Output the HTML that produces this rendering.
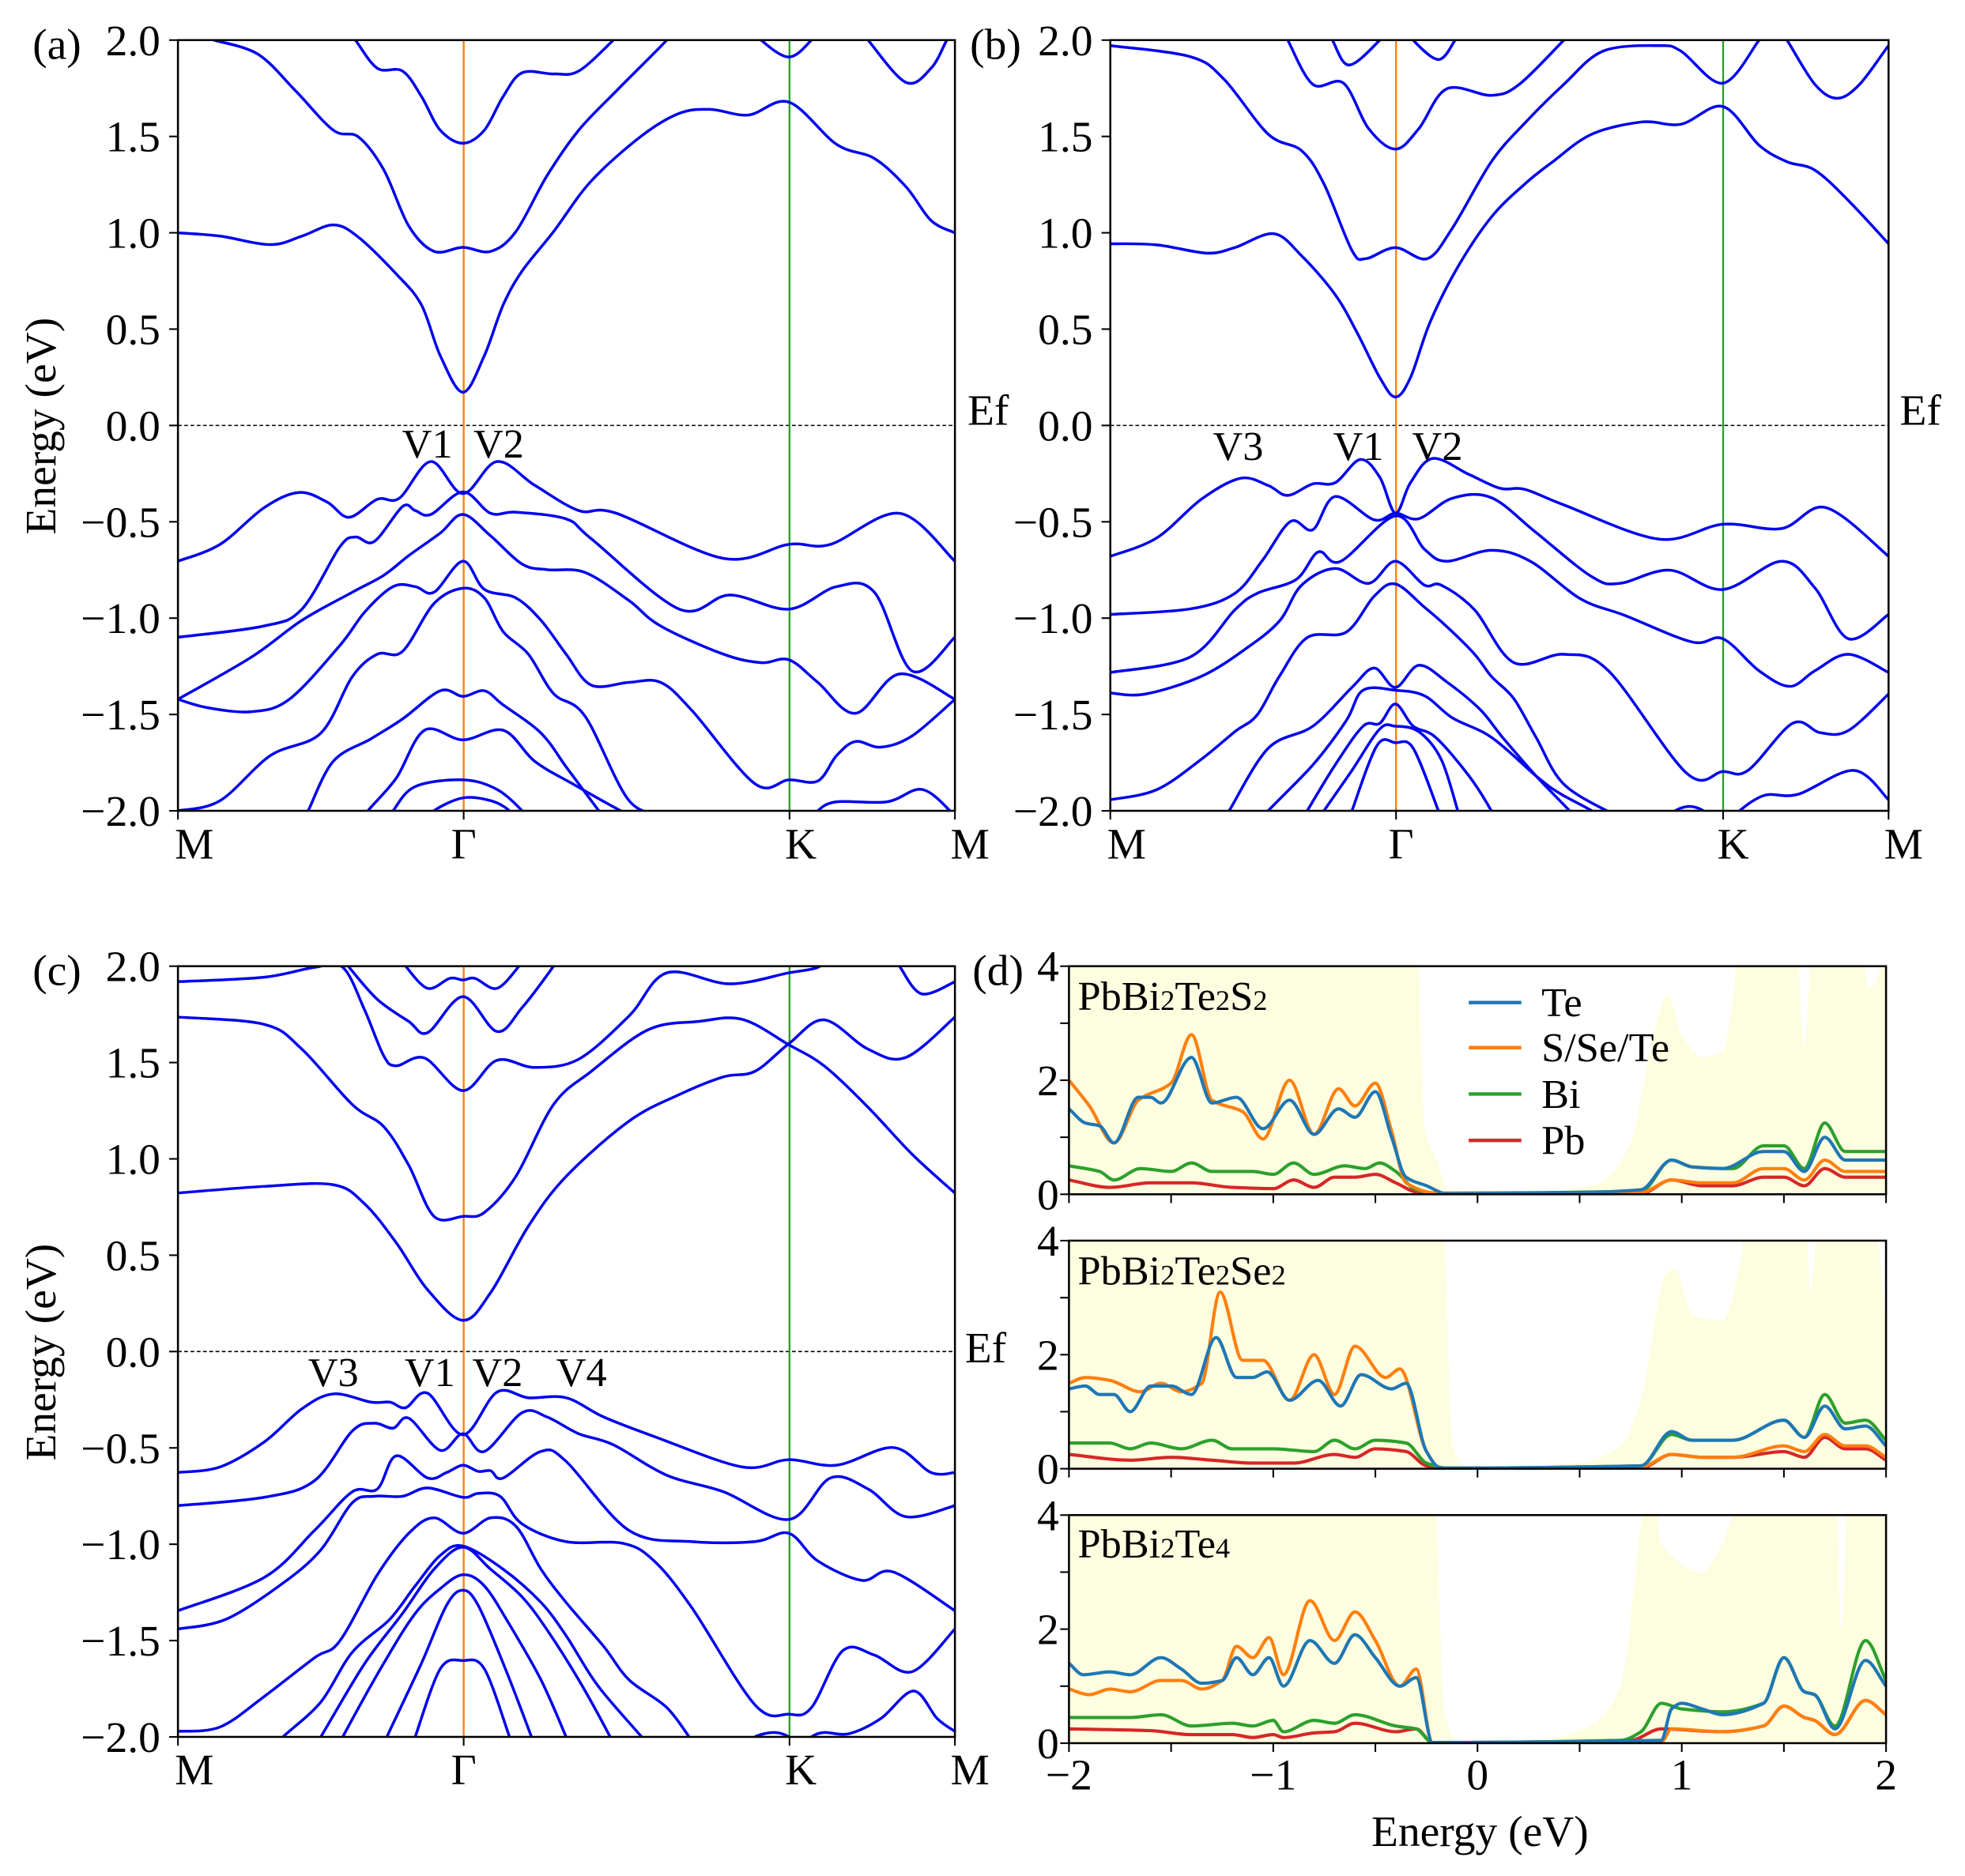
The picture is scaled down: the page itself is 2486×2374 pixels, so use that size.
<!DOCTYPE html>
<html><head><meta charset="utf-8"><style>
html,body{margin:0;padding:0;background:#fff;}
svg{display:block;font-family:"Liberation Serif",serif;}
</style></head><body>
<svg id="s" width="2486" height="2374" viewBox="0 0 1568 1497" preserveAspectRatio="none" xmlns="http://www.w3.org/2000/svg">
<defs>
<clipPath id="ca"><rect x="142" y="32" width="620" height="615"/></clipPath>
<clipPath id="cb"><rect x="886" y="32" width="621" height="615"/></clipPath>
<clipPath id="cc"><rect x="142" y="771" width="620" height="615"/></clipPath>
<clipPath id="cd1"><rect x="853" y="771" width="652" height="182"/></clipPath>
<clipPath id="cd2"><rect x="853" y="990" width="652" height="182"/></clipPath>
<clipPath id="cd3"><rect x="853" y="1209" width="652" height="182"/></clipPath>
</defs>
<g id="g"></g>
</svg>
<script>
var NS="http://www.w3.org/2000/svg",G=document.getElementById('g');
function el(t,a,p,txt){var e=document.createElementNS(NS,t);for(var k in a)e.setAttribute(k,a[k]);if(txt!==undefined)e.textContent=txt;(p||G).appendChild(e);return e;}
function cr(P){if(P.length<2)return'';var d='M'+P[0][0].toFixed(1)+','+P[0][1].toFixed(1);for(var i=0;i<P.length-1;i++){var p0=P[i-1]||P[i],p1=P[i],p2=P[i+1],p3=P[i+2]||p2;var c1x=p1[0]+(p2[0]-p0[0])/6,c1y=p1[1]+(p2[1]-p0[1])/6,c2x=p2[0]-(p3[0]-p1[0])/6,c2y=p2[1]-(p3[1]-p1[1])/6;d+='C'+c1x.toFixed(1)+','+c1y.toFixed(1)+' '+c2x.toFixed(1)+','+c2y.toFixed(1)+' '+p2[0].toFixed(1)+','+p2[1].toFixed(1);}return d;}
function mono(P){var n=P.length;if(n<2)return'';var dl=[],m=[];for(var i=0;i<n-1;i++)dl.push((P[i+1][1]-P[i][1])/(P[i+1][0]-P[i][0]));
 m[0]=dl[0];m[n-1]=dl[n-2];for(i=1;i<n-1;i++){if(dl[i-1]*dl[i]<=0)m[i]=0;else{var a=dl[i-1],b=dl[i];m[i]=2/(1/a+1/b);}}
 var d='M'+P[0][0].toFixed(1)+','+P[0][1].toFixed(1);
 for(i=0;i<n-1;i++){var h=(P[i+1][0]-P[i][0])/3;d+='C'+(P[i][0]+h).toFixed(1)+','+(P[i][1]+m[i]*h).toFixed(1)+' '+(P[i+1][0]-h).toFixed(1)+','+(P[i+1][1]-m[i+1]*h).toFixed(1)+' '+P[i+1][0].toFixed(1)+','+P[i+1][1].toFixed(1);}
 return d;}
function fl(a){var r=[];for(var i=0;i<a.length;i+=2)r.push([a[i],a[i+1]]);return r;}

function bandPanel(o){
 var X=function(z){return o.dx0+(z-o.zx0)/(o.zx1-o.zx0)*(o.dx1-o.dx0);};
 var Y=function(z){return o.dy0+(z-o.zy0)/(o.zy1-o.zy0)*(o.dy1-o.dy0);};
 var g=el('g',{'clip-path':'url(#'+o.clip+')'});
 var ey=o.dy0+(o.dy1-o.dy0)/2;
 el('line',{x1:o.dx0,x2:o.dx1,y1:ey,y2:ey,stroke:'#000','stroke-width':1,'stroke-dasharray':'3,2'},g);
 el('line',{x1:o.gx,x2:o.gx,y1:o.dy0,y2:o.dy1,stroke:'#ff7f0e','stroke-width':1.5},g);
 el('line',{x1:o.kx,x2:o.kx,y1:o.dy0,y2:o.dy1,stroke:'#2ca02c','stroke-width':1.5},g);
 o.bands.forEach(function(b){var P=fl(b).map(function(p){return[X(p[0]),Y(p[1])];});el('path',{d:cr(P),fill:'none',stroke:'#0000ee','stroke-width':2.2},g);});
 el('rect',{x:o.dx0,y:o.dy0,width:o.dx1-o.dx0,height:o.dy1-o.dy0,fill:'none',stroke:'#000','stroke-width':1.6});
 var ticks=['2.0','1.5','1.0','0.5','0.0','\u22120.5','\u22121.0','\u22121.5','\u22122.0'];
 for(var i=0;i<9;i++){var y=o.dy0+i*(o.dy1-o.dy0)/8;el('line',{x1:o.dx0-7,x2:o.dx0,y1:y,y2:y,stroke:'#000','stroke-width':1.3});
  if(o.lab)el('text',{x:o.dx0-14,y:y+12,'font-size':35,'text-anchor':'end'},null,ticks[i]);}
 [o.dx0,o.gx,o.kx,o.dx1].forEach(function(x){el('line',{x1:x,x2:x,y1:o.dy1,y2:o.dy1+7,stroke:'#000','stroke-width':1.3});});
}

bandPanel({clip:'ca',dx0:142,dx1:762,dy0:32,dy1:647,zx0:283,zx1:1518,zy0:70,zy1:1438,gx:370,kx:630,lab:1,bands:[
[340,70,410,95,470,160,530,230,570,242,610,300,650,400,690,445,736,438,780,445,820,410,870,310,920,230,980,160,1060,70,1080,40],
[283,412,350,418,430,433,480,418,530,398,570,420,630,485,670,540,700,630,736,695,770,630,800,540,830,480,880,410,940,320,1020,240,1080,200,1130,193,1190,203,1254,180,1330,255,1390,280,1440,330,1480,390,1518,412],
[545,40,565,70,600,120,640,125,670,170,700,230,736,253,770,230,800,170,830,128,880,130,920,125,975,70,1000,40],
[1190,40,1210,70,1254,100,1290,70,1310,40],[1360,40,1380,70,1440,145,1480,120,1505,70,1520,40],
[283,995,350,965,420,900,475,873,520,890,555,917,600,885,635,883,685,818,736,875,790,818,850,860,920,905,980,910,1150,990,1254,965,1320,965,1430,910,1518,995],
[283,1130,420,1110,480,1080,540,970,565,952,595,960,640,898,660,905,685,912,736,872,780,910,820,908,900,920,940,955,1080,1080,1160,1055,1254,1080,1330,1040,1390,1050,1450,1190,1518,1130],
[283,1240,400,1165,480,1100,560,1050,610,1020,650,985,700,945,736,912,780,950,830,1000,870,1010,930,1015,1000,1065,1050,1110,1150,1160,1210,1175,1254,1170,1300,1210,1360,1265,1430,1195,1518,1240],
[283,1240,330,1255,400,1262,460,1240,540,1145,580,1085,625,1040,660,1040,690,1050,736,995,770,1045,820,1060,860,1100,900,1160,940,1215,1000,1210,1050,1210,1100,1260,1200,1390,1254,1383,1300,1385,1330,1340,1360,1315,1400,1325,1450,1305,1518,1240],
[283,1438,350,1420,430,1340,510,1300,560,1200,600,1160,640,1155,690,1070,736,1043,770,1060,800,1120,840,1160,880,1230,930,1270,1000,1420,1060,1445],
[480,1460,490,1438,530,1350,590,1310,640,1275,700,1225,736,1235,770,1225,800,1250,860,1300,900,1360,940,1420,960,1450],
[575,1460,585,1438,630,1380,675,1295,736,1312,800,1295,850,1350,910,1390,990,1440,1010,1450],
[615,1460,625,1438,660,1395,736,1383,790,1400,830,1438,840,1460],
[680,1460,690,1438,736,1415,780,1420,810,1438,820,1460],
[1290,1460,1300,1438,1330,1422,1410,1422,1465,1400,1510,1438,1520,1460]
]});

bandPanel({clip:'cb',dx0:886,dx1:1507,dy0:32,dy1:647,zx0:37,zx1:1432,zy0:70,zy1:1463,gx:1114,kx:1375,lab:1,bands:[
[37,80,180,100,240,140,320,240,380,270,420,330,470,450,495,465,548,445,605,465,650,410,720,290,780,220,850,150,920,90,1020,80,1060,90,1135,148,1200,70,1220,40],
[37,438,120,440,210,455,260,445,330,420,380,460,440,530,480,600,520,680,548,715,575,680,610,580,660,480,720,390,780,330,830,290,900,240,990,218,1060,222,1135,190,1200,260,1250,290,1300,305,1360,360,1432,438],
[340,40,355,70,400,150,455,148,500,230,548,267,590,230,640,158,720,170,770,150,850,70,880,40],
[420,40,435,70,465,115,520,70,540,40],[565,40,580,70,625,105,655,70,670,40],
[1230,40,1250,70,1300,150,1340,175,1380,150,1432,80,1450,60],
[37,1003,120,970,200,900,270,862,320,875,355,893,400,872,440,870,485,828,520,860,548,925,575,870,615,826,680,855,735,880,780,882,850,910,1020,972,1135,945,1240,953,1320,915,1432,1003],
[37,1108,180,1098,260,1070,310,1010,360,940,400,955,440,895,510,937,548,925,590,935,650,898,720,897,800,960,900,1040,950,1052,1040,1028,1135,1063,1240,1012,1300,1060,1360,1152,1432,1108],
[37,1213,180,1185,260,1100,300,1070,370,1045,410,995,450,1012,548,930,600,990,640,1012,720,992,790,1012,880,1080,960,1110,1080,1158,1135,1152,1200,1210,1255,1238,1300,1210,1360,1180,1432,1213],
[37,1250,100,1252,200,1220,280,1170,340,1120,380,1055,440,1025,500,1052,548,1012,600,1055,630,1055,690,1100,760,1195,850,1180,930,1210,1070,1395,1135,1392,1180,1390,1260,1305,1310,1322,1360,1318,1432,1252],
[37,1443,120,1425,200,1370,260,1320,300,1290,340,1220,390,1150,460,1140,510,1075,548,1053,600,1095,640,1130,690,1180,720,1220,760,1260,800,1330,850,1415,940,1470,960,1480],
[240,1480,250,1463,320,1350,400,1310,470,1240,510,1205,548,1240,590,1200,640,1230,700,1280,740,1330,800,1400,860,1463,870,1480],
[310,1480,320,1463,400,1380,460,1300,490,1245,548,1245,600,1255,650,1295,720,1330,800,1400,840,1430,900,1463,920,1480],
[380,1480,390,1463,440,1380,490,1310,520,1305,548,1270,580,1310,620,1330,680,1400,720,1463,725,1480],
[410,1480,420,1463,470,1390,520,1315,548,1310,590,1320,630,1370,660,1463,665,1480],
[465,1480,470,1463,515,1345,548,1340,580,1350,625,1463,630,1480],
[1040,1480,1050,1463,1075,1455,1100,1463,1110,1480],
[1155,1480,1165,1463,1210,1435,1270,1433,1370,1390,1432,1443]
]});

bandPanel({clip:'cc',dx0:142,dx1:762,dy0:771,dy1:1386,zx0:283,zx1:1518,zy0:60,zy1:1453,gx:370,kx:630,lab:1,bands:[
[283,88,420,80,500,62,545,62,580,140,610,222,630,240,675,226,736,285,790,230,850,243,920,228,1000,150,1060,72,1160,92,1254,72,1300,62,1320,40],
[283,152,420,165,480,210,560,310,610,350,650,420,690,512,736,512,770,505,820,440,880,310,940,250,1030,175,1110,160,1180,156,1254,202,1310,240,1380,315,1450,400,1518,470],
[283,470,420,458,530,455,580,490,630,560,680,645,736,700,780,650,840,530,900,440,1000,340,1080,292,1150,260,1200,250,1254,200,1310,157,1380,210,1440,225,1518,152],
[540,40,555,62,600,120,650,160,680,180,736,115,790,178,830,135,880,60,890,40],
[635,40,645,60,680,100,715,82,736,85,755,82,790,100,825,60,835,40],
[1420,40,1430,60,1465,110,1518,88],
[283,975,350,965,420,920,480,860,530,833,590,848,620,848,645,858,680,832,736,907,790,830,840,840,900,840,960,875,1040,910,1180,965,1254,952,1330,962,1420,930,1480,975,1518,975],
[283,1035,420,1020,500,990,560,900,595,886,625,895,650,877,700,935,736,905,770,937,830,867,870,875,920,905,975,925,1060,980,1150,1010,1254,1060,1320,985,1380,1005,1440,1055,1518,1035],
[283,1225,420,1165,500,1080,560,1010,600,1005,630,945,680,985,710,975,736,962,760,973,780,972,800,985,860,937,900,955,1000,1080,1100,1100,1200,1100,1254,1085,1300,1135,1370,1170,1420,1155,1518,1225],
[283,1258,360,1240,450,1175,510,1115,560,1030,595,1018,640,1018,680,1003,736,1020,760,1013,795,1018,830,1068,900,1100,990,1103,1040,1135,1100,1220,1200,1395,1254,1412,1290,1400,1340,1297,1390,1305,1450,1335,1518,1258],
[283,1443,350,1435,420,1380,500,1310,540,1280,600,1160,650,1085,690,1057,736,1085,780,1057,820,1072,860,1150,900,1210,960,1290,1000,1350,1060,1400,1100,1460,1110,1470],
[440,1470,450,1453,510,1390,560,1300,620,1240,660,1180,700,1125,736,1108,800,1150,860,1210,900,1270,950,1360,1020,1453,1030,1470],
[500,1470,510,1453,580,1320,640,1230,690,1150,736,1110,780,1150,830,1200,870,1260,920,1350,970,1453,975,1470],
[540,1470,545,1453,610,1320,660,1230,700,1185,736,1160,770,1180,810,1250,860,1350,900,1453,905,1470],
[610,1470,615,1453,670,1320,710,1215,736,1188,760,1215,800,1320,845,1453,850,1470],
[655,1470,660,1453,700,1330,736,1315,770,1330,810,1453,815,1470],
[1190,1470,1200,1453,1230,1445,1254,1453,1260,1470],
[1280,1470,1290,1453,1310,1445,1350,1447,1400,1420,1452,1370,1490,1420,1518,1443]
]});

var EX=function(E){return 853+(E+2)*163;};
function dosPanel(y0,clip,shade,curves){
 var y1=y0+182,VY=function(v){return y1-v*45.5;};
 var g=el('g',{'clip-path':'url(#'+clip+')'});
 var P=fl(shade).map(function(p){return[EX(p[0]),VY(p[1])];});
 var d=mono(P)+'L1505,'+y1+'L853,'+y1+'Z';
 el('path',{d:d,fill:'#fdfde0',stroke:'none'},g);
 var cols=['#1f77b4','#ff7f0e','#2ca02c','#d62728'];
 [3,2,1,0].forEach(function(i){var Q=fl(curves[i]).map(function(p){return[EX(p[0]),VY(p[1])];});el('path',{d:mono(Q),fill:'none',stroke:cols[i],'stroke-width':2.6},g);});
 el('rect',{x:853,y:y0,width:652,height:182,fill:'none',stroke:'#000','stroke-width':1.6});
 for(var v=0;v<=4;v++){var y=VY(v);el('line',{x1:846,x2:853,y1:y,y2:y,stroke:'#000','stroke-width':1.3});if(v%2==0)el('text',{x:845,y:y+12,'font-size':35,'text-anchor':'end'},null,''+v);}
 for(var e=-2;e<=2.001;e+=0.5){var x=EX(e);el('line',{x1:x,x2:x,y1:y1,y2:y1+7,stroke:'#000','stroke-width':1.3});}
}
dosPanel(771,'cd1',
[-2,5,-0.3,5,-0.26,1.2,-0.2,0.6,-0.14,0.05,0.3,0.02,0.6,0.2,0.75,0.9,0.85,2.6,0.93,3.5,1.0,2.8,1.1,2.4,1.2,2.5,1.32,5,1.55,5,1.6,2.6,1.65,5,1.85,5,1.92,3.6,2,4.2],
[[-2,1.5,-1.92,1.25,-1.85,1.2,-1.78,0.9,-1.66,1.7,-1.6,1.7,-1.55,1.6,-1.4,2.4,-1.3,1.6,-1.18,1.7,-1.05,1.15,-0.92,1.65,-0.8,1.05,-0.68,1.5,-0.6,1.35,-0.5,1.8,-0.42,1.0,-0.35,0.3,-0.25,0.15,-0.15,0.01,0.5,0.03,0.8,0.08,0.95,0.6,1.05,0.48,1.2,0.45,1.4,0.75,1.5,0.75,1.6,0.4,1.7,1.0,1.8,0.6,2,0.6],
[-2,2.0,-1.9,1.55,-1.78,0.9,-1.66,1.65,-1.5,1.95,-1.4,2.8,-1.3,1.65,-1.15,1.45,-1.05,0.97,-0.92,2.0,-0.8,1.05,-0.68,1.85,-0.6,1.55,-0.5,1.95,-0.42,1.1,-0.35,0.2,-0.2,0.02,0.8,0.03,0.95,0.25,1.1,0.2,1.25,0.2,1.4,0.45,1.5,0.45,1.6,0.25,1.7,0.6,1.8,0.4,2,0.4],
[-2,0.5,-1.85,0.4,-1.78,0.25,-1.65,0.45,-1.5,0.4,-1.4,0.55,-1.3,0.4,-1.1,0.4,-1.0,0.35,-0.9,0.55,-0.8,0.35,-0.65,0.5,-0.55,0.45,-0.48,0.55,-0.4,0.4,-0.3,0.08,-0.2,0.02,0.8,0.05,0.95,0.6,1.05,0.48,1.25,0.45,1.4,0.85,1.5,0.85,1.6,0.45,1.7,1.25,1.8,0.75,2,0.75],
[-2,0.25,-1.8,0.12,-1.6,0.2,-1.4,0.2,-1.2,0.12,-1.0,0.1,-0.9,0.25,-0.8,0.12,-0.7,0.3,-0.6,0.3,-0.5,0.35,-0.4,0.2,-0.3,0.04,-0.2,0.01,0.8,0.01,0.95,0.25,1.1,0.15,1.25,0.15,1.4,0.3,1.5,0.3,1.6,0.15,1.7,0.45,1.8,0.3,2,0.3]]);
dosPanel(990,'cd2',
[-2,5,-0.18,5,-0.12,0.4,-0.05,0.02,0.5,0.1,0.7,0.4,0.8,1.2,0.92,3.4,0.97,3.5,1.05,2.7,1.2,2.6,1.28,3.5,1.35,5,1.6,5,1.63,3.1,1.68,5,1.95,4.2,2,2.5],
[[-2,1.4,-1.92,1.45,-1.85,1.3,-1.78,1.3,-1.7,1.0,-1.6,1.45,-1.5,1.45,-1.4,1.3,-1.28,2.3,-1.18,1.6,-1.1,1.6,-1.03,1.7,-0.92,1.2,-0.78,1.55,-0.67,1.1,-0.57,1.65,-0.42,1.4,-0.35,1.5,-0.25,0.3,-0.18,0.01,0.8,0.05,0.95,0.65,1.05,0.5,1.25,0.5,1.5,0.85,1.6,0.55,1.7,1.1,1.8,0.7,1.9,0.75,2,0.4],
[-2,1.5,-1.92,1.6,-1.8,1.55,-1.65,1.35,-1.55,1.5,-1.45,1.35,-1.35,1.5,-1.26,3.1,-1.15,1.9,-1.05,1.9,-0.92,1.2,-0.8,2.0,-0.7,1.3,-0.6,2.15,-0.45,1.6,-0.38,1.75,-0.25,0.3,-0.18,0.01,0.8,0.03,0.95,0.25,1.1,0.2,1.25,0.2,1.5,0.4,1.6,0.3,1.7,0.6,1.8,0.4,1.9,0.4,2,0.2],
[-2,0.45,-1.8,0.45,-1.7,0.35,-1.6,0.45,-1.45,0.35,-1.3,0.5,-1.2,0.35,-1.0,0.35,-0.8,0.3,-0.7,0.5,-0.6,0.35,-0.5,0.5,-0.35,0.45,-0.25,0.1,-0.15,0.01,0.8,0.05,0.95,0.6,1.05,0.5,1.25,0.5,1.5,0.85,1.6,0.55,1.7,1.3,1.8,0.8,1.9,0.85,2,0.5],
[-2,0.25,-1.7,0.15,-1.5,0.2,-1.3,0.15,-1.1,0.1,-0.9,0.1,-0.7,0.25,-0.6,0.2,-0.5,0.35,-0.35,0.3,-0.25,0.05,-0.15,0.01,0.8,0.01,0.95,0.25,1.1,0.2,1.25,0.2,1.5,0.3,1.6,0.2,1.7,0.55,1.8,0.35,1.9,0.35,2,0.15]]);
dosPanel(1209,'cd3',
[-2,5,-0.22,5,-0.16,0.5,-0.1,0.01,0.3,0.05,0.55,0.3,0.7,1,0.8,3.8,0.85,5,0.9,3.5,1.1,3.0,1.2,3.5,1.35,5,1.75,5,1.78,2.0,1.82,5,2,5],
[[-2,1.4,-1.93,1.2,-1.8,1.25,-1.7,1.2,-1.55,1.5,-1.45,1.3,-1.35,1.05,-1.25,1.1,-1.18,1.5,-1.1,1.2,-1.02,1.5,-0.95,1.0,-0.82,1.8,-0.7,1.4,-0.6,1.9,-0.5,1.5,-0.38,1.0,-0.3,1.15,-0.22,0.01,0.9,0.05,0.95,0.6,1.0,0.7,1.1,0.6,1.2,0.5,1.4,0.7,1.5,1.5,1.6,0.9,1.65,0.85,1.75,0.25,1.9,1.45,2,1.0],
[-2,0.95,-1.9,0.85,-1.8,0.95,-1.7,0.9,-1.55,1.1,-1.45,1.1,-1.35,0.95,-1.25,1.1,-1.18,1.7,-1.1,1.5,-1.02,1.85,-0.95,1.2,-0.82,2.5,-0.7,1.8,-0.6,2.3,-0.5,1.8,-0.38,1.0,-0.3,1.3,-0.22,0.01,0.9,0.02,0.95,0.25,1.2,0.2,1.4,0.3,1.5,0.65,1.6,0.45,1.65,0.4,1.75,0.15,1.9,0.75,2,0.5],
[-2,0.45,-1.7,0.45,-1.55,0.5,-1.4,0.3,-1.2,0.35,-1.1,0.3,-1.0,0.4,-0.95,0.2,-0.8,0.4,-0.7,0.35,-0.6,0.5,-0.4,0.3,-0.3,0.25,-0.22,0.01,0.7,0.05,0.8,0.2,0.9,0.7,1.0,0.6,1.2,0.55,1.4,0.7,1.5,1.5,1.6,0.9,1.65,0.85,1.75,0.3,1.9,1.8,2,1.1],
[-2,0.25,-1.6,0.22,-1.4,0.15,-1.2,0.15,-1.1,0.1,-1.0,0.15,-0.95,0.1,-0.8,0.18,-0.7,0.2,-0.6,0.35,-0.4,0.2,-0.3,0.25,-0.22,0.01,0.75,0.05,0.9,0.25,1.2,0.2,1.4,0.3,1.5,0.65,1.6,0.45,1.65,0.4,1.75,0.15,1.9,0.75,2,0.5]]);

function T(x,y,s,fs,anc){return el('text',{x:x,y:y,'font-size':fs||35,'text-anchor':anc||'start'},null,s);}
T(26,47,'(a)');T(772,339,'Ef');T(341,365,'V1','33','middle');T(398,365,'V2','33','middle');
T(774,47,'(b)');T(1516,339,'Ef');T(988,367,'V3','33','middle');T(1084,367,'V1','33','middle');T(1147,367,'V2','33','middle');
T(26,786,'(c)');T(770,1087,'Ef');T(266,1106,'V3','33','middle');T(343,1106,'V1','33','middle');T(397,1106,'V2','33','middle');T(464,1106,'V4','33','middle');
T(776,786,'(d)');
[[0,0],[0,739]].forEach(function(o){
 el('text',{x:0,y:0,'font-size':35,'text-anchor':'middle',transform:'translate(44,'+(340+o[1])+') rotate(-90)'},null,'Energy (eV)');
 T(155,685+o[1],'M',35,'middle');T(370,685+o[1],'\u0393',35,'middle');T(639,685+o[1],'K',35,'middle');T(774,685+o[1],'M',35,'middle');
});
T(899,685,'M',35,'middle');T(1118,685,'\u0393',35,'middle');T(1383,685,'K',35,'middle');T(1519,685,'M',35,'middle');
function F(y,parts){var t=el('text',{x:860,y:y,'font-size':33});parts.forEach(function(p){el('tspan',{'font-size':p[1]?23:33},t,p[0]);});}
F(806,[['PbBi',0],['2',1],['Te',0],['2',1],['S',0],['2',1]]);
F(1025,[['PbBi',0],['2',1],['Te',0],['2',1],['Se',0],['2',1]]);
F(1243,[['PbBi',0],['2',1],['Te',0],['4',1]]);
[['Te','#1f77b4',800],['S/Se/Te','#ff7f0e',836],['Bi','#2ca02c',873],['Pb','#d62728',910]].forEach(function(l){
 el('line',{x1:1172,x2:1214,y1:l[2],y2:l[2],stroke:l[1],'stroke-width':2.8});T(1230,l[2]+11,l[0],33);});
[['\u22122',-2],['\u22121',-1],['0',0],['1',1],['2',2]].forEach(function(a){T(EX(a[1]),1428,a[0],35,'middle');});
T(1181,1473,'Energy (eV)',35,'middle');
</script>
</body></html>
